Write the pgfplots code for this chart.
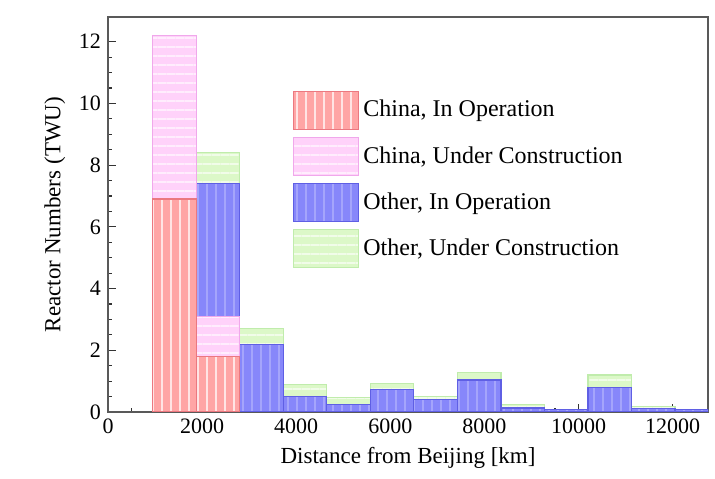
\documentclass[border=0pt]{standalone}
\usepackage{fontspec}
\setmainfont{Liberation Serif}
\usepackage{pgfplots}
\usepackage{pgfplotstable}
\pgfplotsset{compat=1.18}
\usetikzlibrary{patterns.meta}

\definecolor{cnop}{RGB}{255,165,165}
\definecolor{cnopedge}{RGB}{235,120,128}
\definecolor{cnuc}{RGB}{255,210,250}
\definecolor{cnucedge}{RGB}{240,168,235}
\definecolor{otop}{RGB}{135,135,250}
\definecolor{otopedge}{RGB}{95,95,228}
\definecolor{otuc}{RGB}{220,248,200}
\definecolor{otucedge}{RGB}{192,236,172}

% reactor counts per distance bin (bin width 925 km, x = bin centre)
\pgfplotstableread{
x       cnop  cnuc  otop  otuc
1412.5  6.9   5.3   0.0   0.0
2337.5  1.8   1.3   4.3   1.0
3262.5  0.0   0.0   2.2   0.5
4187.5  0.0   0.0   0.5   0.4
5112.5  0.0   0.0   0.23  0.25
6037.5  0.0   0.0   0.72  0.2
6962.5  0.0   0.0   0.4   0.1
7887.5  0.0   0.0   1.04  0.25
8812.5  0.0   0.0   0.13  0.1
9737.5  0.0   0.0   0.08  0.0
10662.5 0.0   0.0   0.8   0.4
11587.5 0.0   0.0   0.12  0.05
12512.5 0.0   0.0   0.08  0.0
}\bins

\begin{document}
\begin{tikzpicture}
\begin{axis}[
  scale only axis,
  width=300pt, height=197.5pt,
  xmin=0, xmax=12750, ymin=0, ymax=12.8,
  xtick={0,2000,...,12000}, ytick={0,2,...,12},
  minor x tick num=3, minor y tick num=3,
  tick align=inside, tick pos=left,
  major tick length=4pt, minor tick length=2pt,
  every tick/.style={black!80, line width=0.6pt},
  scaled x ticks=false,
  /pgf/number format/1000 sep={},
  /pgf/number format/assume math mode=true,
  tick label style={font=\fontsize{11}{13}\selectfont},
  label style={font=\fontsize{11.5}{13.5}\selectfont},
  xlabel={Distance from Beijing [km]},
  ylabel={Reactor Numbers (TWU)},
  axis line style={black!65, line width=0.8pt},
  ybar stacked, bar width=925,
  legend image code/.code={\draw[#1] (0pt,-9.5pt) rectangle (32.5pt,9.5pt);},
  legend style={at={(0.298,0.825)}, anchor=north west, draw=none, fill=none,
    row sep=3.5pt, font=\fontsize{12}{14}\selectfont},
  legend cell align=left,
]
\addplot[fill=cnop, draw=cnopedge, line width=0.6pt,
  postaction={pattern={Lines[angle=90,distance=4.5pt,line width=0.8pt]}, pattern color=white!70!cnop}]
  table[x=x, y=cnop] {\bins};
\addplot[fill=cnuc, draw=cnucedge, line width=0.6pt,
  postaction={pattern={Lines[angle=0,distance=4.5pt,line width=0.8pt]}, pattern color=white!60!cnuc}]
  table[x=x, y=cnuc] {\bins};
\addplot[fill=otop, draw=otopedge, line width=0.6pt,
  postaction={pattern={Lines[angle=90,distance=4.5pt,line width=0.8pt]}, pattern color=white!25!otop}]
  table[x=x, y=otop] {\bins};
\addplot[fill=otuc, draw=otucedge, line width=0.6pt,
  postaction={pattern={Lines[angle=0,distance=4.5pt,line width=0.8pt]}, pattern color=white!60!otuc}]
  table[x=x, y=otuc] {\bins};
\legend{{China, In Operation}, {China, Under Construction}, {Other, In Operation}, {Other, Under Construction}}
\end{axis}
\path (current axis.south west) +(-54pt,-33.5pt);
\path (current axis.north east) +(3.5pt,8.5pt);
\end{tikzpicture}
\end{document}
